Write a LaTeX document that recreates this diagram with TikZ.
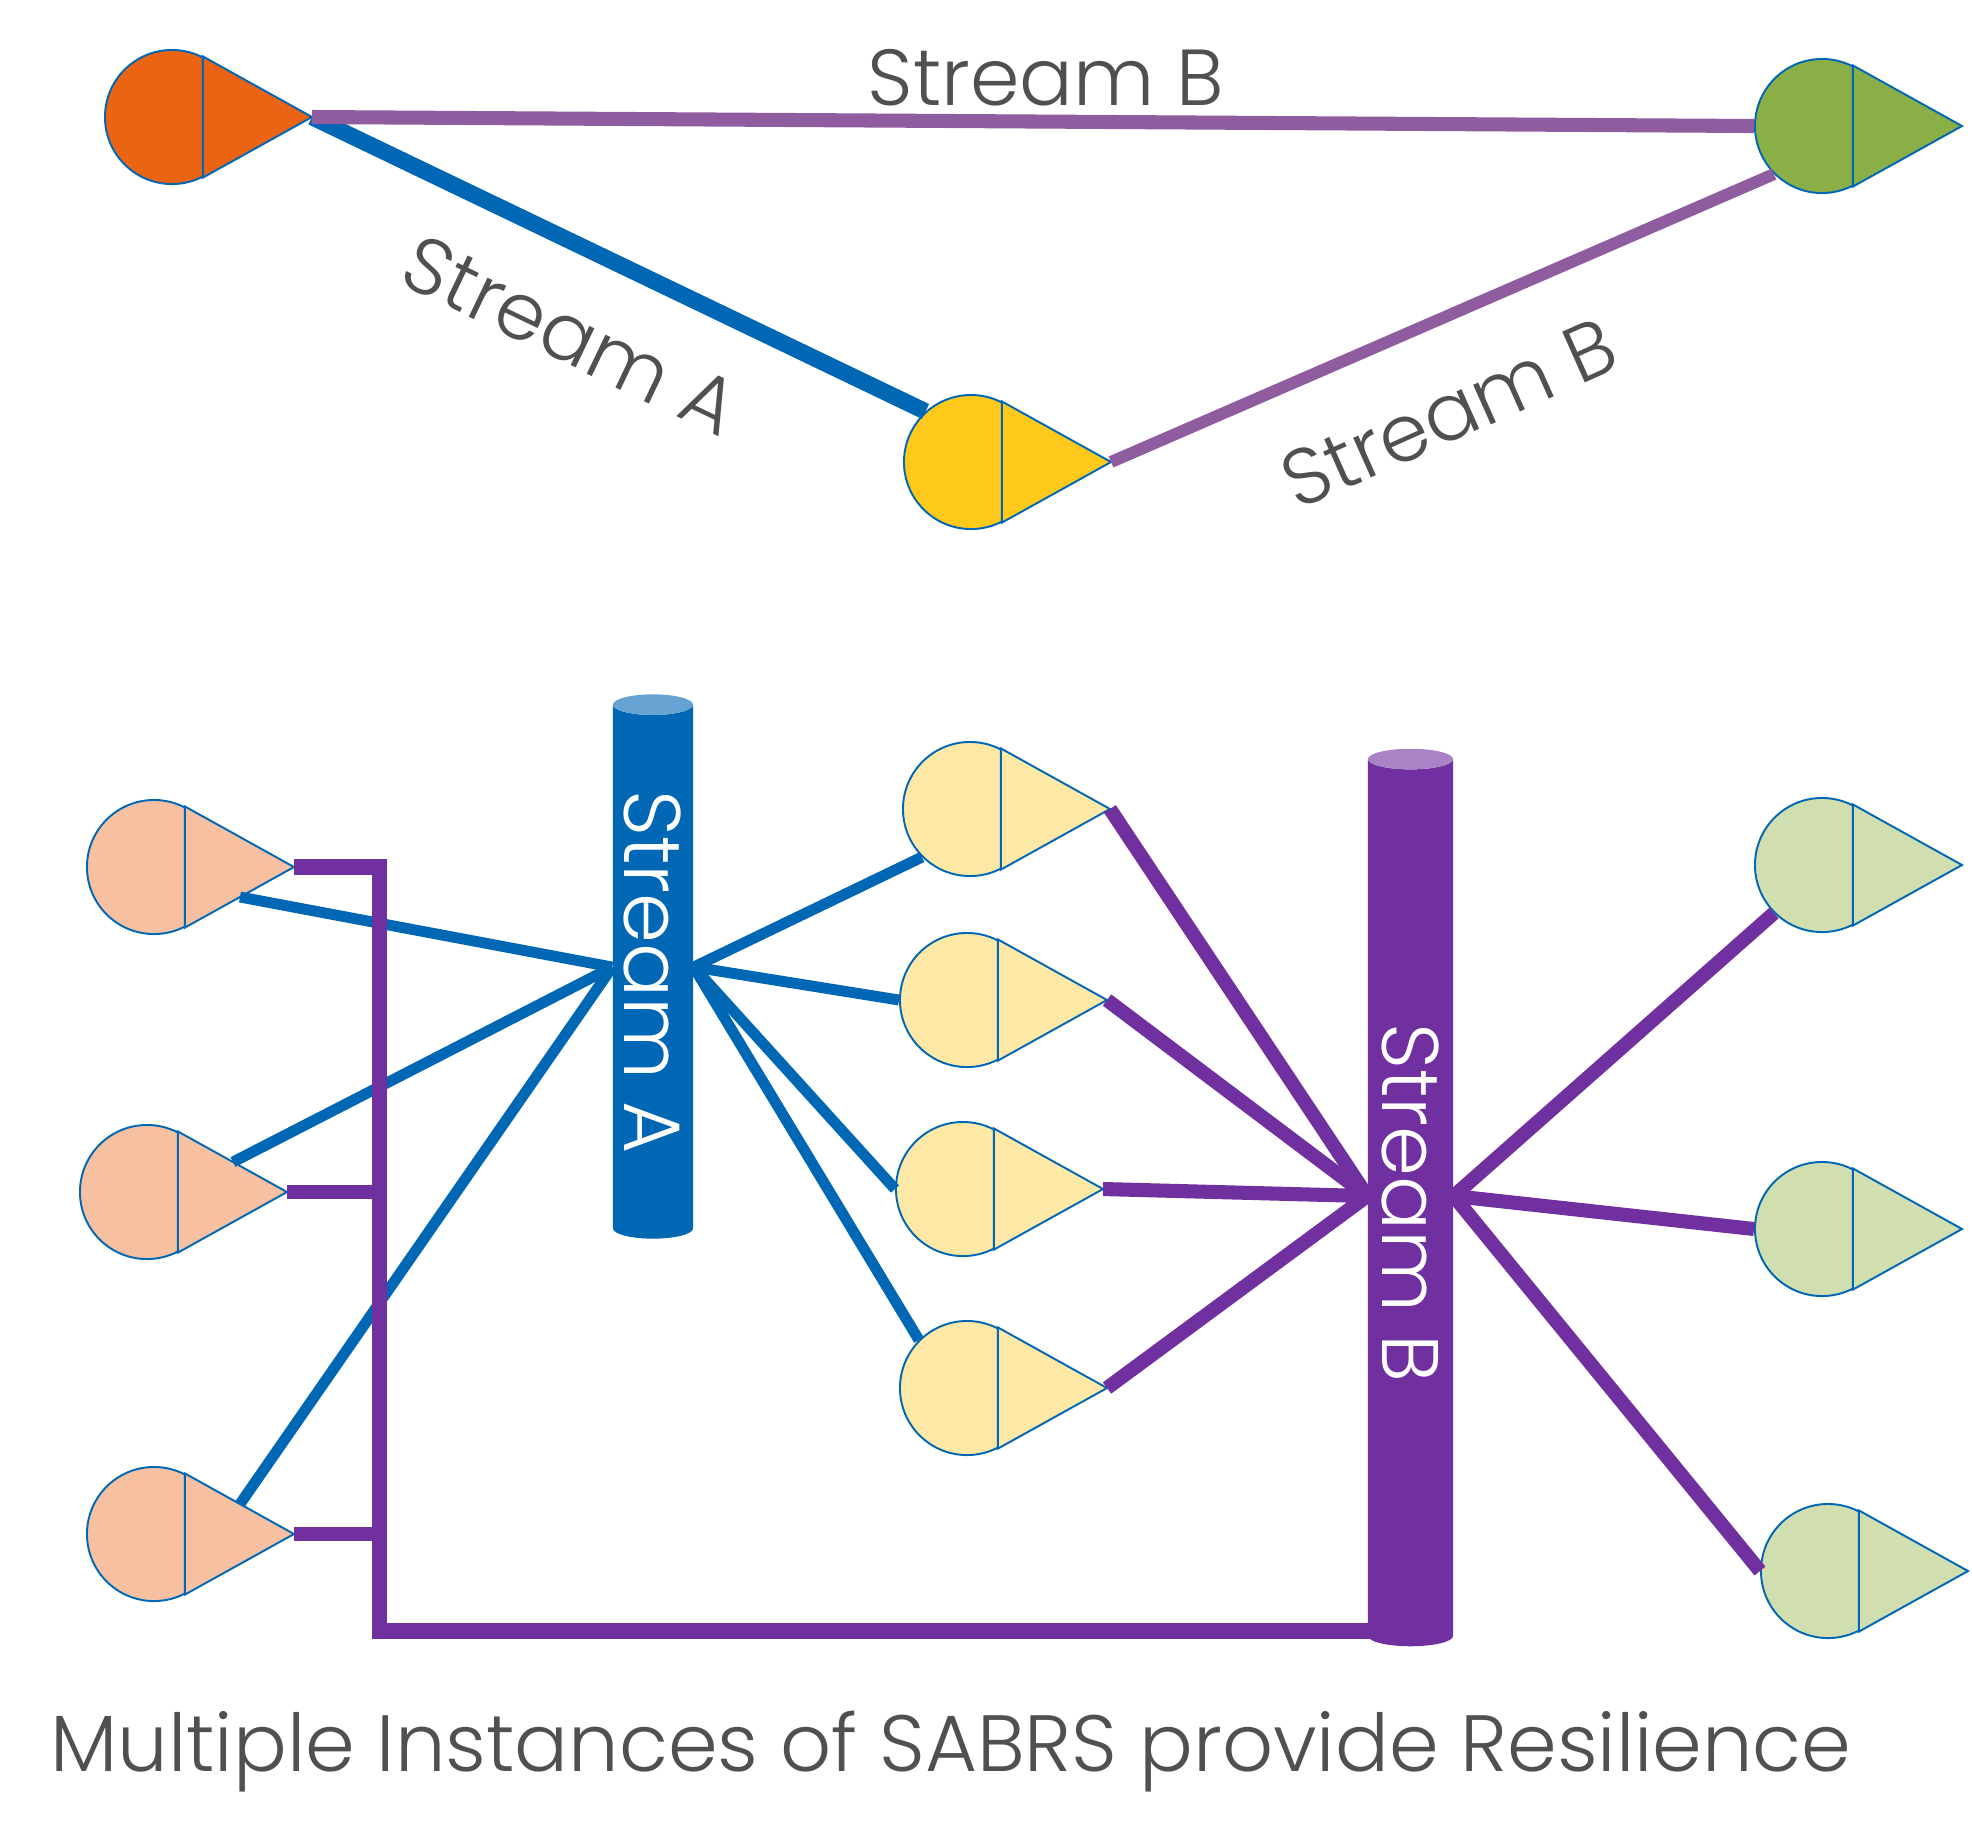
\documentclass[tikz,border=0pt]{standalone}
\usepackage{fontspec}
\setmainfont{Poppins Light}
\usetikzlibrary{shapes.geometric}

\tikzset{
    inst/.style={draw=streama, line width=0.55pt},
    label text/.style={text=labelgrey, font=\fontsize{22.6}{26}\selectfont, inner sep=0pt},
    column/.style={cylinder, shape aspect=0.36, rotate=-90, shape border rotate=180,
        cylinder uses custom fill, inner sep=0pt, text=white,
        font=\fontsize{22.8}{26}\selectfont},
    feed a/.style={draw=streama, line width=3.1pt},
    feed b/.style={draw=streamb, line width=4pt}
}

\begin{document}
\begin{tikzpicture}[x=0.01cm, y=-0.01cm, line join=miter]
\definecolor{streama}{RGB}{0,103,181}
\definecolor{streamb}{RGB}{112,48,160}
\definecolor{streamc}{RGB}{143,92,160}
\definecolor{capa}{RGB}{102,163,211}
\definecolor{capb}{RGB}{169,131,198}
\definecolor{labelgrey}{RGB}{80,80,80}
\definecolor{orangefull}{RGB}{234,100,20}
\definecolor{yellowfull}{RGB}{255,201,27}
\definecolor{greenfull}{RGB}{139,175,71}
\definecolor{orangepale}{RGB}{246,192,161}
\definecolor{yellowpale}{RGB}{253,232,165}
\definecolor{greenpale}{RGB}{209,223,176}

\useasboundingbox (0,0) rectangle (1972,1844);

% ======================================================
% instances
% ======================================================
\foreach \nm/\x/\y/\col in {
    src/172/117/orangefull, mid/971/462/yellowfull, dst/1822/126/greenfull,
    oa/154/867/orangepale, ob/147/1192/orangepale, oc/154/1534/orangepale,
    ya/970/809/yellowpale, yb/967/1000/yellowpale, yc/963/1189/yellowpale, yd/967/1388/yellowpale,
    ga/1822/865/greenpale, gb/1822/1229/greenpale, gc/1828/1571/greenpale} {
    \node[circle, inst, fill=\col, minimum size=1.34cm, inner sep=0pt] (\nm) at (\x,\y) {};
    \coordinate (\nm-tip) at (\x+140,\y);
    \coordinate (\nm-up) at (\x+86,\y-30);
    \coordinate (\nm-low) at (\x+86,\y+30);
    \filldraw[inst, fill=\col] (\nm.63) -- (\nm-tip) -- (\nm.-63) -- cycle;
}

% ======================================================
% top chain
% ======================================================
\draw[draw=streama, line width=4.7pt] (src-tip) -- (mid.132);
\draw[draw=streamc, line width=4pt] (src-tip) -- (dst.west);
\draw[draw=streamc, line width=3.4pt] (mid-tip) -- (dst.225);

\node[label text] (lbtop) at (1046,78) {Stream B};
\node[label text, rotate=-25.6] (lbleft) at (571,335) {Stream A};
\node[label text, rotate=24] (lbright) at (1449,413) {Stream B};

% ======================================================
% columns
% ======================================================
\node[column, minimum height=5.44cm, minimum width=0.8cm,
    cylinder body fill=streama, cylinder end fill=capa] (cola) at (653,972) {Stream A};
\node[column, minimum height=8.97cm, minimum width=0.85cm,
    cylinder body fill=streamb, cylinder end fill=capb] (colb) at (1410.5,1203) {Stream B};

% stream A
\foreach \from in {oa-low, ob-up, oc-up} {
    \draw[feed a] (\from) -- ([yshift=1.42pt]cola.south);
}
\foreach \to in {ya.225, yb.west, yc.west, yd.135} {
    \draw[feed a] ([yshift=1.42pt]cola.north) -- (\to);
}

% stream B
\foreach \from in {ya-tip, yb-tip, yc-tip, yd-tip} {
    \draw[feed b] (\from) -- ([yshift=1.99pt]colb.south);
}
\foreach \to in {ga.225, gb.west, gc.west} {
    \draw[feed b] ([yshift=1.99pt]colb.north) -- (\to);
}

% bus
\coordinate (bustop) at (379.5,867);
\coordinate (busbot) at (379.5,1631);
\coordinate (busend) at (1410,1631);
\coordinate (busb) at (379.5,1192);
\coordinate (busc) at (379.5,1534);
\draw[feed b, line width=4.5pt] (oa-tip) -- (bustop) -- (busbot) -- (busend);
\draw[feed b] (ob-tip) -- (busb);
\draw[feed b] (oc-tip) -- (busc);

% title
\node[label text, font=\fontsize{22.7}{28}\selectfont] (title) at (951,1752)
    {Multiple Instances of SABRS provide Resilience};

\end{tikzpicture}
\end{document}
